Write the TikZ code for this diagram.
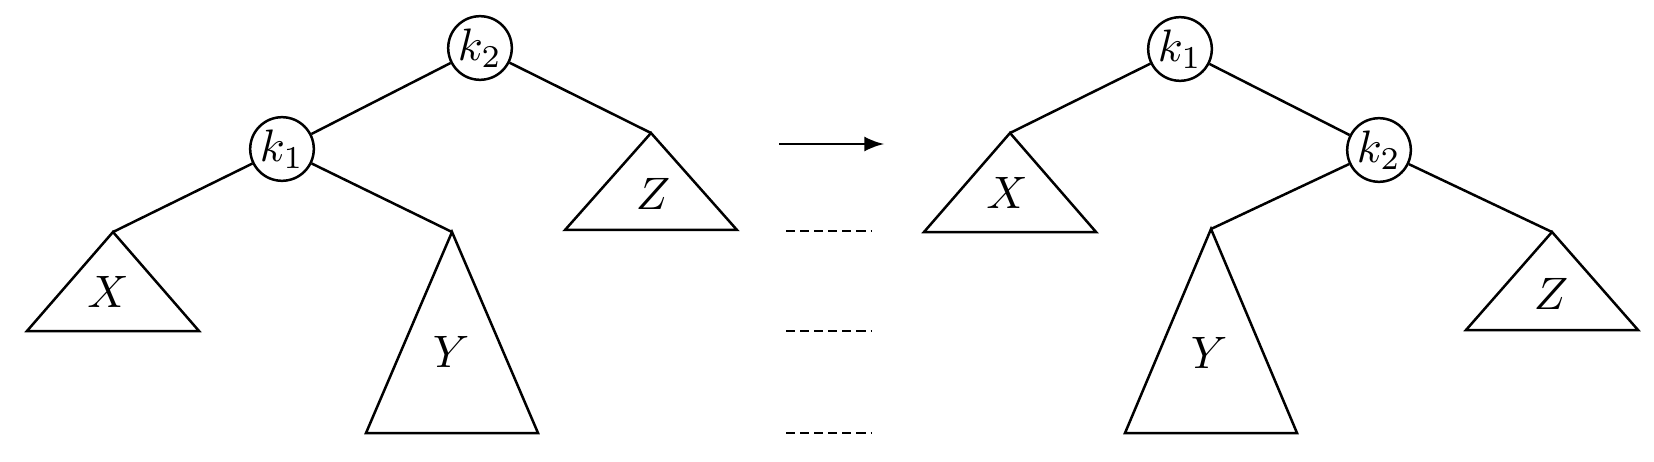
\documentclass[tikz,border=0pt]{standalone}
\usetikzlibrary{arrows}
\tikzset{key/.style={draw, circle, fill=white, inner sep=0pt, minimum size=14pt},
	gap/.style={line width=0.45pt, dash pattern=on 2pt off 1.1pt}}

\begin{document}
\begin{tikzpicture}[x=0.22pt,y=-0.22pt,line width=0.55pt]
			\useasboundingbox(0,0) rectangle (1654,462);
			\coordinate(lx) at (113,232);
			\coordinate(ly) at (452,232);
			\coordinate(lz) at (651,133);
			\coordinate(rx) at (1010,133);
			\coordinate(ry) at (1211,229);
			\coordinate(rz) at (1552,232);
			\draw(lx) -- ++(-86,99) -- ++(172,0) -- cycle;
			\draw(ly) -- ++(-86,201) -- ++(172,0) -- cycle;
			\draw(lz) -- ++(-86,97) -- ++(172,0) -- cycle;
			\draw(rx) -- ++(-86,99) -- ++(172,0) -- cycle;
			\draw(ry) -- ++(-86,204) -- ++(172,0) -- cycle;
			\draw(rz) -- ++(-86,98) -- ++(172,0) -- cycle;
			\node(lxt) at (108,292) {$X$};
			\node(lyt) at (451,352) {$Y$};
			\node(lzt) at (653,194) {$Z$};
			\node(rxt) at (1007,193) {$X$};
			\node(ryt) at (1209,353) {$Y$};
			\node(rzt) at (1551,294) {$Z$};
			\node[key](lk2) at (480,48) {$k_2$};
			\node[key](lk1) at (282,149) {$k_1$};
			\node[key](rk1) at (1180,49) {$k_1$};
			\node[key](rk2) at (1379,150) {$k_2$};
			\draw(lk2) -- (lk1);
			\draw(lk2) -- (lz);
			\draw(lk1) -- (lx);
			\draw(lk1) -- (ly);
			\draw(rk1) -- (rx);
			\draw(rk1) -- (rk2);
			\draw(rk2) -- (ry);
			\draw(rk2) -- (rz);
			\coordinate(from) at (779,144);
			\coordinate(to) at (884,144);
			\draw[-latex, line width=0.5pt](from) -- (to);
			\foreach \y in {231,331,433}
				\draw[gap](786,\y) -- (872,\y);
		\end{tikzpicture}
\end{document}
